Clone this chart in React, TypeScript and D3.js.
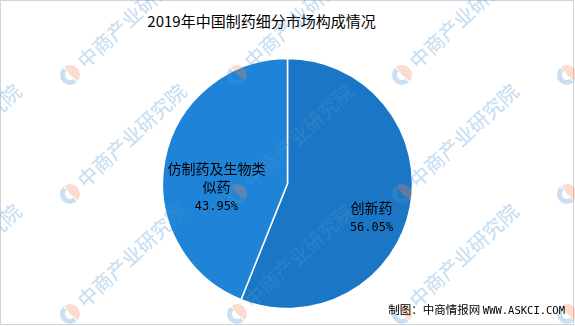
import React from "react";
import * as d3 from "d3";

const W = 575;
const H = 326;

const title = "2019年中国制药细分市场构成情况";
const categories = ["创新药", "仿制药及生物类似药"];
const values = [56.05, 43.95];
const labelLines = [["创新药"], ["仿制药及生物类", "似药"]];
const colors = ["#1b77c5", "#1f83d7"];
const sourceCn = "制图：中商情报网 ";
const sourceEn = "WWW.ASKCI.COM";
const watermarkText = "中商产业研究院";
const wmCols = [-95, 70, 237, 402, 567];
const wmRows = [75, 194, 314];

const CJK = "'Noto Sans CJK SC', 'Noto Sans', sans-serif";
const MONO = "'DejaVu Sans Mono', 'Liberation Mono', monospace";

export default function App() {
  const cx = 287.5;
  const cy = 183.5;
  const r = 125;
  const pie = d3
    .pie<number>()
    .sort(null)
    .value((d) => d)
    .startAngle(0)
    .endAngle(2 * Math.PI);
  const arcs = pie(values);
  const arc = d3.arc<d3.PieArcDatum<number>>().innerRadius(0).outerRadius(r);
  const labelArc = d3.arc<d3.PieArcDatum<number>>().innerRadius(79).outerRadius(79);
  const fmt = d3.format(".2f");
  const lineH = 18;
  const labelShift = [6.5, 18];

  const logoBlue = d3.arc()({ innerRadius: 5, outerRadius: 10, startAngle: Math.PI, endAngle: 2 * Math.PI } as any) as string;
  const logoSalmon = d3.arc()({ innerRadius: 0, outerRadius: 10, startAngle: 0.15, endAngle: Math.PI - 0.15 } as any) as string;

  return (
    <svg width={W} height={H} style={{ position: "absolute", left: 0, top: 0 }}>
      <rect x={0} y={0} width={W} height={H} fill="#fff" />
      <rect x={0.5} y={0.5} width={573} height={324} fill="none" stroke="#d4d4d4" strokeWidth={1} />
      <text x={261.5} y={27} textAnchor="middle" fontFamily={CJK} fontSize={15} fill="#000">
        {title}
      </text>
      <g transform={`translate(${cx},${cy})`}>
        {arcs.map((a, i) => (
          <path key={categories[i]} d={arc(a) as string} fill={colors[i]} stroke="#fff" strokeWidth={1.5} />
        ))}
      </g>
      <g opacity={0.3}>
        {wmRows.map((y) =>
          wmCols.map((x) => (
            <g key={`${x}-${y}`} transform={`translate(${x},${y}) rotate(-43)`}>
              <path d={logoBlue} fill="#4f97d3" />
              <path d={logoSalmon} fill="#f08a5d" />
              <text x={15} y={7} fontFamily={CJK} fontSize={20} fontWeight={500} fill="#4f97d3">
                {watermarkText}
              </text>
            </g>
          ))
        )}
      </g>
      {arcs.map((a, i) => {
        const [lx, ly] = labelArc.centroid(a);
        const ax = cx + lx + labelShift[0];
        const ay = cy + ly + labelShift[1];
        const lines = labelLines[i];
        const n = lines.length + 1;
        return (
          <g key={"lbl" + i}>
            {lines.map((t, j) => (
              <text
                key={t}
                x={ax}
                y={ay + (j - (n - 1) / 2) * lineH + 5.5}
                textAnchor="middle"
                fontFamily={CJK}
                fontSize={14}
                fill="#000"
              >
                {t}
              </text>
            ))}
            <text
              x={ax}
              y={ay + (n - 1 - (n - 1) / 2) * lineH + 5.5}
              textAnchor="middle"
              fontFamily={MONO}
              fontSize={12}
              fill="#000"
            >
              {fmt(values[i]) + "%"}
            </text>
          </g>
        );
      })}
      <text x={565} y={314} textAnchor="end" fill="#000">
        <tspan fontFamily={CJK} fontSize={11.5}>{sourceCn}</tspan>
        <tspan fontFamily={MONO} fontSize={10.5}>{sourceEn}</tspan>
      </text>
    </svg>
  );
}
